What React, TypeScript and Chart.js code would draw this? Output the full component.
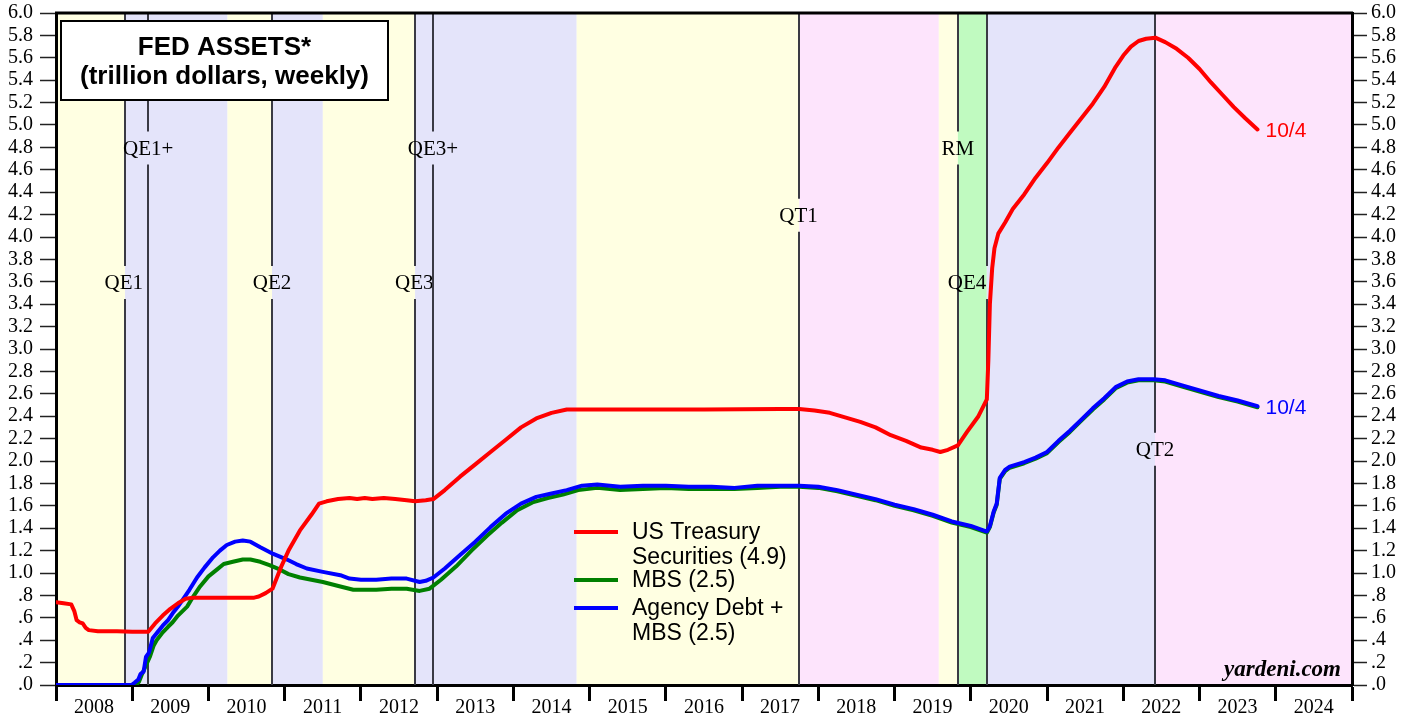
import React, { useEffect, useRef } from "react";
import { Chart, registerables } from "chart.js";
Chart.register(...registerables);

// ---- Data (decimal years, trillion dollars) ----
const treasuryYears = [
  2008.0, 2008.1, 2008.2, 2008.24, 2008.27, 2008.31, 2008.35, 2008.39, 2008.43, 2008.55, 2008.8, 2009.0, 2009.21,
  2009.3, 2009.4, 2009.5, 2009.6, 2009.7, 2009.8, 2010.0, 2010.3, 2010.6, 2010.66, 2010.75, 2010.84, 2010.95,
  2011.05, 2011.2, 2011.35, 2011.45, 2011.55, 2011.7, 2011.85, 2011.95, 2012.05, 2012.15, 2012.3, 2012.45, 2012.6,
  2012.71, 2012.85, 2012.95, 2013.1, 2013.3, 2013.5, 2013.7, 2013.9, 2014.1, 2014.3, 2014.5, 2014.7, 2014.83,
  2015.5, 2016.5, 2017.5, 2017.75, 2017.95, 2018.15, 2018.35, 2018.55, 2018.75, 2018.95, 2019.15, 2019.35, 2019.5,
  2019.6, 2019.7, 2019.83, 2019.95, 2020.1, 2020.21, 2020.23, 2020.25, 2020.28, 2020.31, 2020.36, 2020.45, 2020.55,
  2020.7, 2020.85, 2021.0, 2021.15, 2021.3, 2021.45, 2021.6, 2021.75, 2021.9, 2022.0, 2022.1, 2022.2, 2022.3,
  2022.42, 2022.55, 2022.7, 2022.85, 2023.0, 2023.15, 2023.3, 2023.45, 2023.6, 2023.76,
];
const treasuryValues = [
  0.74, 0.73, 0.72, 0.66, 0.58, 0.56, 0.55, 0.51, 0.49, 0.48, 0.48, 0.475, 0.475,
  0.55, 0.62, 0.68, 0.73, 0.77, 0.78, 0.78, 0.78, 0.78, 0.79, 0.82, 0.86, 1.05,
  1.2, 1.38, 1.52, 1.62, 1.64, 1.66, 1.67, 1.66, 1.67, 1.66, 1.67, 1.66, 1.65,
  1.64, 1.65, 1.66, 1.74, 1.86, 1.97, 2.08, 2.19, 2.3, 2.38, 2.43, 2.46, 2.46,
  2.46, 2.46, 2.465, 2.465, 2.45, 2.43, 2.39, 2.35, 2.3, 2.23, 2.18, 2.12, 2.1,
  2.08, 2.1, 2.14, 2.26, 2.4, 2.55, 2.9, 3.4, 3.72, 3.9, 4.03, 4.13, 4.25,
  4.38, 4.53, 4.66, 4.8, 4.93, 5.06, 5.19, 5.34, 5.52, 5.62, 5.7, 5.75, 5.77,
  5.78, 5.74, 5.68, 5.6, 5.5, 5.38, 5.27, 5.16, 5.06, 4.96,
];

const mbsYears = [
  2008.0, 2009.05, 2009.09, 2009.13, 2009.17, 2009.23, 2009.28, 2009.32, 2009.4, 2009.47, 2009.53, 2009.6, 2009.66,
  2009.72, 2009.8, 2009.89, 2010.0, 2010.11, 2010.2, 2010.32, 2010.45, 2010.55, 2010.68, 2010.8, 2010.94, 2011.05,
  2011.2, 2011.35, 2011.5, 2011.73, 2011.9, 2012.0, 2012.2, 2012.4, 2012.6, 2012.77, 2012.9, 2013.05, 2013.25,
  2013.45, 2013.65, 2013.85, 2014.05, 2014.25, 2014.45, 2014.65, 2014.85, 2015.1, 2015.4, 2015.7, 2016.0, 2016.3,
  2016.6, 2016.9, 2017.2, 2017.5, 2017.75, 2018.0, 2018.25, 2018.5, 2018.75, 2019.0, 2019.25, 2019.5, 2019.75,
  2020.0, 2020.21, 2020.25, 2020.3, 2020.34, 2020.38, 2020.45, 2020.51, 2020.7, 2020.85, 2021.0, 2021.15, 2021.3,
  2021.45, 2021.6, 2021.75, 2021.9, 2022.05, 2022.2, 2022.4, 2022.55, 2022.75, 2023.0, 2023.25, 2023.5, 2023.76,
];
const mbsValues = [
  0, 0, 0.03, 0.1, 0.16, 0.25, 0.35, 0.4, 0.47, 0.52, 0.56, 0.62, 0.66,
  0.7, 0.79, 0.88, 0.97, 1.03, 1.08, 1.1, 1.12, 1.12, 1.1, 1.07, 1.03, 0.99,
  0.96, 0.94, 0.92, 0.88, 0.85, 0.85, 0.85, 0.86, 0.86, 0.84, 0.86, 0.94, 1.06,
  1.2, 1.33, 1.45, 1.56, 1.63, 1.67, 1.7, 1.74, 1.76, 1.74, 1.75, 1.76, 1.75,
  1.75, 1.75, 1.76, 1.77, 1.77, 1.76, 1.73, 1.69, 1.65, 1.6, 1.56, 1.51, 1.45,
  1.41, 1.36, 1.41, 1.54, 1.61, 1.84, 1.91, 1.94, 1.98, 2.02, 2.07, 2.17, 2.26,
  2.36, 2.46, 2.55, 2.65, 2.7, 2.72, 2.72, 2.71, 2.67, 2.62, 2.57, 2.53, 2.48,
];

const agencyYears = [
  2008.0, 2008.99, 2009.03, 2009.08, 2009.11, 2009.15, 2009.18, 2009.22, 2009.27, 2009.33, 2009.4, 2009.47, 2009.53,
  2009.6, 2009.67, 2009.75, 2009.85, 2009.95, 2010.06, 2010.15, 2010.24, 2010.35, 2010.45, 2010.55, 2010.68, 2010.85,
  2011.03, 2011.15, 2011.29, 2011.5, 2011.73, 2011.85, 2012.0, 2012.2, 2012.4, 2012.6, 2012.77, 2012.85, 2012.95,
  2013.1, 2013.3, 2013.5, 2013.7, 2013.9, 2014.1, 2014.3, 2014.5, 2014.7, 2014.9, 2015.1, 2015.4, 2015.7, 2016.0,
  2016.3, 2016.6, 2016.9, 2017.2, 2017.5, 2017.75, 2018.0, 2018.25, 2018.5, 2018.75, 2019.0, 2019.25, 2019.5, 2019.75,
  2020.0, 2020.21, 2020.25, 2020.3, 2020.34, 2020.38, 2020.45, 2020.51, 2020.7, 2020.85, 2021.0, 2021.15, 2021.3,
  2021.45, 2021.6, 2021.75, 2021.9, 2022.05, 2022.2, 2022.4, 2022.55, 2022.75, 2023.0, 2023.25, 2023.5, 2023.76,
];
const agencyValues = [
  0, 0, 0.02, 0.05, 0.1, 0.12, 0.25, 0.29, 0.42, 0.47, 0.53, 0.58, 0.64,
  0.7, 0.77, 0.85, 0.96, 1.05, 1.14, 1.2, 1.25, 1.28, 1.29, 1.28, 1.23, 1.17,
  1.12, 1.08, 1.04, 1.01, 0.98, 0.95, 0.94, 0.94, 0.95, 0.95, 0.92, 0.93, 0.96,
  1.04, 1.16, 1.28, 1.41, 1.53, 1.62, 1.68, 1.71, 1.74, 1.78, 1.79, 1.77, 1.78, 1.78,
  1.77, 1.77, 1.76, 1.78, 1.78, 1.78, 1.77, 1.74, 1.7, 1.66, 1.61, 1.57, 1.52, 1.46,
  1.42, 1.37, 1.42, 1.55, 1.62, 1.85, 1.92, 1.95, 1.99, 2.03, 2.08, 2.18, 2.27,
  2.37, 2.47, 2.56, 2.66, 2.71, 2.73, 2.73, 2.72, 2.68, 2.63, 2.58, 2.54, 2.49,
];

// Shaded policy periods
const bandStarts = [2008.0, 2008.905, 2010.25, 2010.833, 2011.5, 2012.71, 2014.83, 2017.75, 2019.58, 2019.83, 2020.21, 2022.416];
const bandEnds = [2008.905, 2010.25, 2010.833, 2011.5, 2012.71, 2014.83, 2017.75, 2019.58, 2019.83, 2020.21, 2022.416, 2025.0];
const YEL = "rgb(255,255,226)";
const LAV = "rgb(228,228,250)";
const PNK = "rgb(253,228,252)";
const GRN = "rgb(192,250,192)";
const bandColors = [YEL, LAV, YEL, LAV, YEL, LAV, YEL, PNK, YEL, GRN, LAV, PNK];

// Policy event lines
const eventNames = ["QE1", "QE1+", "QE2", "QE3", "QE3+", "QT1", "RM", "QE4", "QT2"];
const eventYears = [2008.905, 2009.21, 2010.833, 2012.71, 2012.945, 2017.75, 2019.83, 2020.21, 2022.416];
const eventLabelYears = [2008.89, 2009.21, 2010.833, 2012.70, 2012.945, 2017.74, 2019.83, 2019.95, 2022.416];
const eventLabelLevels = [3.59, 4.79, 3.59, 3.59, 4.79, 4.19, 4.79, 3.59, 2.1];

const yearTicks = [2008, 2009, 2010, 2011, 2012, 2013, 2014, 2015, 2016, 2017, 2018, 2019, 2020, 2021, 2022, 2023, 2024];

const seriesNames = ["US Treasury\nSecurities (4.9)", "MBS (2.5)", "Agency Debt +\nMBS (2.5)"];
const seriesColors = ["#ff0000", "#008000", "#0000ff"];
const lastLabel = "10/4";

const SERIF = "'Liberation Serif', 'Times New Roman', serif";
const SANS = "'Liberation Sans', Arial, sans-serif";

function pts(xs: number[], ys: number[]) {
  return xs.map((x, i) => ({ x, y: ys[i] }));
}

const fmtY = (v: number) => {
  const s = Number(v).toFixed(1);
  return v < 1 ? s.substring(1) : s;
};

const decorPlugin = {
  id: "decor",
  beforeDraw(chart: any) {
    const { ctx, chartArea: ca, scales } = chart;
    const xs = scales.x;
    ctx.save();
    ctx.fillStyle = "#ffffff";
    ctx.fillRect(0, 0, chart.width, chart.height);
    for (let i = 0; i < bandStarts.length; i++) {
      const x0 = xs.getPixelForValue(bandStarts[i]);
      const x1 = xs.getPixelForValue(bandEnds[i]);
      ctx.fillStyle = bandColors[i];
      ctx.fillRect(x0, ca.top, x1 - x0, ca.bottom - ca.top);
    }
    ctx.restore();
  },
  beforeDatasetsDraw(chart: any) {
    const { ctx, chartArea: ca, scales } = chart;
    const xs = scales.x;
    const ys = scales.y;
    ctx.save();
    ctx.font = `21px ${SERIF}`;
    ctx.textAlign = "center";
    ctx.textBaseline = "middle";
    for (let i = 0; i < eventYears.length; i++) {
      const x = Math.round(xs.getPixelForValue(eventYears[i]));
      const ly = ys.getPixelForValue(eventLabelLevels[i]);
      ctx.strokeStyle = "#3a3a44";
      ctx.lineWidth = 2;
      ctx.beginPath();
      ctx.moveTo(x, ca.top);
      ctx.lineTo(x, ly - 17);
      ctx.moveTo(x, ly + 16);
      ctx.lineTo(x, ca.bottom);
      ctx.stroke();
      ctx.fillStyle = "#000";
      ctx.fillText(eventNames[i], xs.getPixelForValue(eventLabelYears[i]), ly + 1);
    }
    ctx.restore();
  },
  afterDatasetsDraw(chart: any) {
    const { ctx, chartArea: ca, scales } = chart;
    const xs = scales.x;
    const ys = scales.y;
    ctx.save();
    // Title box
    ctx.fillStyle = "#fff";
    ctx.fillRect(61, 21, 327, 79);
    ctx.strokeStyle = "#000";
    ctx.lineWidth = 2;
    ctx.strokeRect(61, 21, 327, 79);
    ctx.fillStyle = "#000";
    ctx.font = `bold 26px ${SANS}`;
    ctx.textAlign = "center";
    ctx.textBaseline = "middle";
    ctx.fillText("FED ASSETS*", 224.5, 48);
    ctx.fillText("(trillion dollars, weekly)", 224.5, 77);

    // Legend
    ctx.font = `23px ${SANS}`;
    ctx.textAlign = "left";
    const rowYs = [532, 580, 608];
    for (let i = 0; i < seriesNames.length; i++) {
      const y0 = rowYs[i];
      ctx.strokeStyle = seriesColors[i];
      ctx.lineWidth = 4;
      ctx.beginPath();
      ctx.moveTo(574, y0);
      ctx.lineTo(618, y0);
      ctx.stroke();
      ctx.fillStyle = "#000";
      const lines = seriesNames[i].split("\n");
      lines.forEach((t, j) => ctx.fillText(t, 632, y0 + 1 + j * 25));
    }

    // Last-value labels
    ctx.font = `21px ${SANS}`;
    ctx.textAlign = "left";
    const lastT = treasuryYears.length - 1;
    ctx.fillStyle = "#ff0000";
    ctx.fillText(lastLabel, xs.getPixelForValue(treasuryYears[lastT]) + 8, ys.getPixelForValue(treasuryValues[lastT]) + 2);
    const lastA = agencyYears.length - 1;
    ctx.fillStyle = "#0000ff";
    ctx.fillText(lastLabel, xs.getPixelForValue(agencyYears[lastA]) + 8, ys.getPixelForValue(agencyValues[lastA]) + 2);

    // Source
    ctx.fillStyle = "#000";
    ctx.font = `italic bold 23px ${SERIF}`;
    ctx.textAlign = "right";
    ctx.textBaseline = "alphabetic";
    ctx.fillText("yardeni.com", ca.right - 11, ca.bottom - 9);

    // Top border
    ctx.strokeStyle = "#000";
    ctx.lineWidth = 3;
    ctx.beginPath();
    ctx.moveTo(ca.left - 1, ca.top);
    ctx.lineTo(ca.right + 1, ca.top);
    ctx.stroke();
    ctx.restore();
  },
};

const yTickCfg = (pad: number) => ({
  stepSize: 0.2,
  autoSkip: false,
  color: "#000",
  padding: pad,
  font: { family: SERIF, size: 20 },
  callback: (v: any) => fmtY(Number(v)),
});

export default function App() {
  const ref = useRef<HTMLCanvasElement | null>(null);
  useEffect(() => {
    document.body.style.margin = "0";
    const canvas = ref.current!;
    const chart = new Chart(canvas, {
      type: "line",
      data: {
        datasets: [
          { label: "US Treasury Securities", data: pts(treasuryYears, treasuryValues), borderColor: "#ff0000", borderWidth: 4, pointRadius: 0, fill: false, tension: 0, borderJoinStyle: "round", borderCapStyle: "round" },
          { label: "Agency Debt + MBS", data: pts(agencyYears, agencyValues), borderColor: "#0000ff", borderWidth: 4, pointRadius: 0, fill: false, tension: 0, borderJoinStyle: "round", borderCapStyle: "round" },
          { label: "MBS", data: pts(mbsYears, mbsValues), borderColor: "#008000", borderWidth: 4, pointRadius: 0, fill: false, tension: 0, borderJoinStyle: "round", borderCapStyle: "round" },
        ],
      },
      options: {
        responsive: false,
        animation: false,
        devicePixelRatio: 1,
        layout: { padding: { top: 13, left: 0, right: 0, bottom: 0 } },
        plugins: { legend: { display: false }, tooltip: { enabled: false }, title: { display: false } },
        scales: {
          x: {
            type: "linear",
            position: "bottom",
            min: 2008,
            max: 2025,
            afterBuildTicks: (scale: any) => {
              scale.ticks = [...yearTicks, 2025].map((v) => ({ value: v }));
            },
            afterFit: (scale: any) => {
              scale.height = 32;
              scale.paddingLeft = 0;
              scale.paddingRight = 0;
            },
            ticks: {
              autoSkip: false,
              maxRotation: 0,
              minRotation: 0,
              labelOffset: 38,
              padding: -5,
              color: "#000",
              font: { family: SERIF, size: 20 },
              callback: (v: any) => (yearTicks.includes(Number(v)) ? String(v) : ""),
            },
            grid: { drawOnChartArea: false, drawTicks: true, tickLength: 16, tickWidth: 3, tickColor: "#000" },
            border: { display: true, color: "#000", width: 3 },
          },
          y: {
            position: "left",
            min: 0,
            max: 6,
            afterFit: (scale: any) => {
              scale.width = 56;
              scale.paddingTop = 0;
              scale.paddingBottom = 0;
            },
            ticks: yTickCfg(7),
            grid: { drawOnChartArea: false, drawTicks: true, tickLength: 16, tickWidth: 1.5, tickColor: "#222" },
            border: { display: true, color: "#000", width: 3 },
          },
          y2: {
            position: "right",
            min: 0,
            max: 6,
            afterFit: (scale: any) => {
              scale.width = 65;
              scale.paddingTop = 0;
              scale.paddingBottom = 0;
            },
            ticks: yTickCfg(4),
            grid: { drawOnChartArea: false, drawTicks: true, tickLength: 15, tickWidth: 1.5, tickColor: "#222" },
            border: { display: true, color: "#000", width: 3 },
          },
        },
      } as any,
      plugins: [decorPlugin],
    });
    return () => chart.destroy();
  }, []);
  return <canvas ref={ref} width={1417} height={717} style={{ display: "block" }} />;
}
